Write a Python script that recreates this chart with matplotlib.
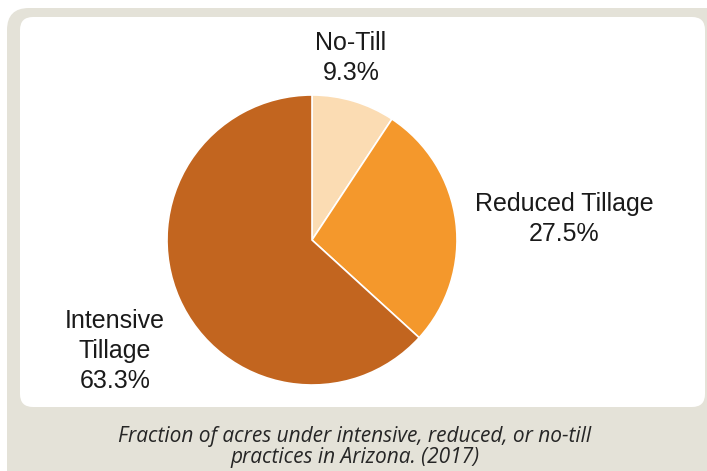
import matplotlib
matplotlib.use("Agg")
import matplotlib.pyplot as plt
from matplotlib.patches import FancyBboxPatch

categories = ["No-Till", "Reduced Tillage", "Intensive\nTillage"]
values = [9.3, 27.5, 63.3]
colors = ["#fbdcb3", "#f4982c", "#c2651f"]
caption = "Fraction of acres under intensive, reduced, or no-till\npractices in Arizona. (2017)"

W, H = 707, 471
fig = plt.figure(figsize=(W / 100, H / 100), dpi=100)
fig.patch.set_facecolor("white")

# background panels in pixel coordinates
bg = fig.add_axes([0, 0, 1, 1])
bg.set_xlim(0, W)
bg.set_ylim(H, 0)
bg.axis("off")
bg.add_patch(FancyBboxPatch((7 + 22, 8 + 22), W + 40 - 44, H + 40 - 44,
                            boxstyle="round,pad=22", fc="#e4e2d8", ec="none"))
bg.add_patch(FancyBboxPatch((20 + 13, 17 + 13), 685 - 26, 390 - 26,
                            boxstyle="round,pad=13", fc="white", ec="none"))

# pie
cx, cy, r = 312, 240, 145
ax = fig.add_axes([(cx - r) / W, (H - cy - r) / H, 2 * r / W, 2 * r / H])
wedges, _ = ax.pie(values, colors=colors, startangle=90, counterclock=False,
                   radius=1.0, wedgeprops=dict(edgecolor="white", linewidth=1.2))
ax.set_xlim(-1, 1)
ax.set_ylim(-1, 1)
ax.axis("off")

lab_font = dict(family=["Liberation Sans", "DejaVu Sans"], fontsize=18,
                color="#1a1a1a", ha="center", va="center", linespacing=1.3)

def px(x, y):
    return ((x - cx) / r, (cy - y) / r)

label_pos = [(351, 58), (564, 219), (115, 351)]
for name, val, (x, y) in zip(categories, values, label_pos):
    ax.text(*px(x, y), f"{name}\n{val:.1f}%", clip_on=False, **lab_font)

fig.text(355 / W, 1 - 447 / H, caption, ha="center", va="center",
         family=["Open Sans", "DejaVu Sans"], style="italic", fontsize=15,
         color="#262626", linespacing=1.0)

fig.savefig("out.png", dpi=100)
